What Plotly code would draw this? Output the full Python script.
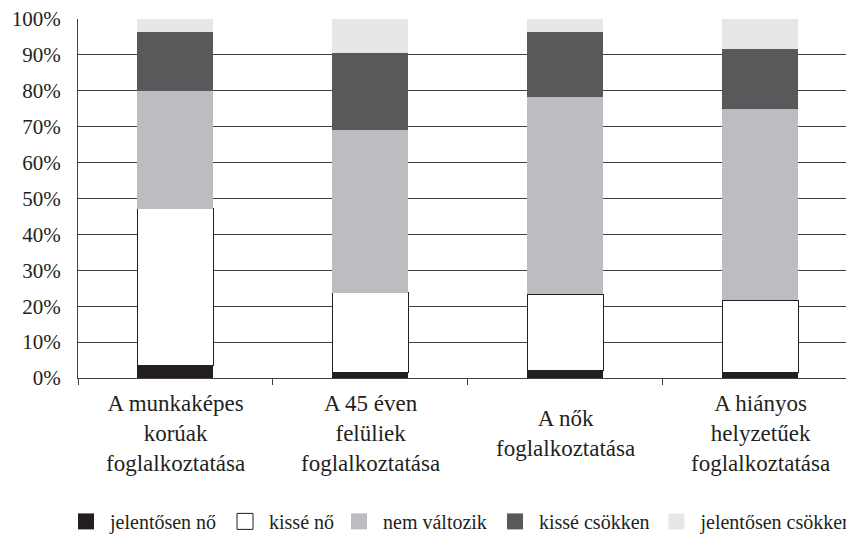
import plotly.graph_objects as go

categories = [
    "A munkaképes<br>korúak<br>foglalkoztatása",
    "A 45 éven<br>felüliek<br>foglalkoztatása",
    "A nők<br>foglalkoztatása",
    "A hiányos<br>helyzetűek<br>foglalkoztatása",
]
series_names = ["jelentősen nő", "kissé nő", "nem változik", "kissé csökken", "jelentősen csökken"]
jelentosen_no = [3.5, 1.4, 2.0, 1.4]
kisse_no = [43.6, 22.3, 21.3, 20.2]
nem_valtozik = [32.9, 45.3, 55.0, 53.3]
kisse_csokken = [16.4, 21.5, 18.2, 16.7]
jelentosen_csokken = [3.6, 9.5, 3.5, 8.4]
y_tick_values = [0, 10, 20, 30, 40, 50, 60, 70, 80, 90, 100]
y_tick_labels = ["0%", "10%", "20%", "30%", "40%", "50%", "60%", "70%", "80%", "90%", "100%"]

series_values = [jelentosen_no, kisse_no, nem_valtozik, kisse_csokken, jelentosen_csokken]
colors = ["#231f20", "#ffffff", "#bcbdc0", "#58595b", "#e6e7e8"]
line_widths = [0, 1, 0, 0, 0]
legend_ids = ["legend", "legend2", "legend3", "legend4", "legend5"]
legend_x = [-0.0206, 0.1843, 0.3312, 0.5322, 0.7403]

FONT = "Liberation Serif"
TXT = "#231f20"

fig = go.Figure()
for name, vals, col, lw in zip(series_names, series_values, colors, line_widths):
    fig.add_trace(go.Bar(
        x=categories, y=vals, name=name, showlegend=False,
        marker=dict(color=col, line=dict(color="#231f20", width=lw)),
        hoverinfo="name+y",
    ))

# legend entries (square swatches), one small legend per entry
for name, col, lw, lid in zip(series_names, colors, line_widths, legend_ids):
    fig.add_trace(go.Scatter(
        x=[None], y=[None], mode="markers", name=name, legend=lid,
        marker=dict(symbol="square", size=16, color=col,
                    line=dict(color="#231f20", width=lw)),
    ))

legend_common = dict(orientation="h", yanchor="middle", y=-0.3994, xanchor="left",
                      font=dict(family=FONT, size=20, color=TXT),
                      bgcolor="rgba(0,0,0,0)", borderwidth=0, itemwidth=38)
layout_legends = {}
for lid, lx in zip(legend_ids, legend_x):
    layout_legends[lid] = dict(legend_common, x=lx)

annotations = [
    dict(x=c, y=-0.155, xref="x", yref="paper", text=c, showarrow=False,
         yanchor="middle", xanchor="center", align="center",
         font=dict(family=FONT, size=23, color=TXT))
    for c in categories
]

# the page body has an 8px margin: the figure is sized to end at the window edge
fig.update_layout(
    width=846, height=526,
    margin=dict(l=70, r=0, t=11, b=156, autoexpand=False),
    paper_bgcolor="white", plot_bgcolor="white",
    barmode="stack", bargap=0.61,
    font=dict(family=FONT, color=TXT),
    annotations=annotations,
    **layout_legends,
)
fig.update_xaxes(
    range=[-0.5, 3.481], showticklabels=False, tickson="boundaries",
    ticks="outside", ticklen=6, tickcolor="#404040", tickwidth=1,
    showline=True, linecolor="#404040", linewidth=1, showgrid=False,
)
fig.update_yaxes(
    range=[0, 100], tickmode="array", tickvals=y_tick_values, ticktext=y_tick_labels,
    showgrid=True, gridcolor="#404040", gridwidth=1,
    showline=True, linecolor="#404040", linewidth=1,
    ticks="", ticklabelstandoff=12, zeroline=False, ticklabeloverflow="allow",
    tickfont=dict(family=FONT, size=21, color=TXT),
)

fig.write_html("out.html")
